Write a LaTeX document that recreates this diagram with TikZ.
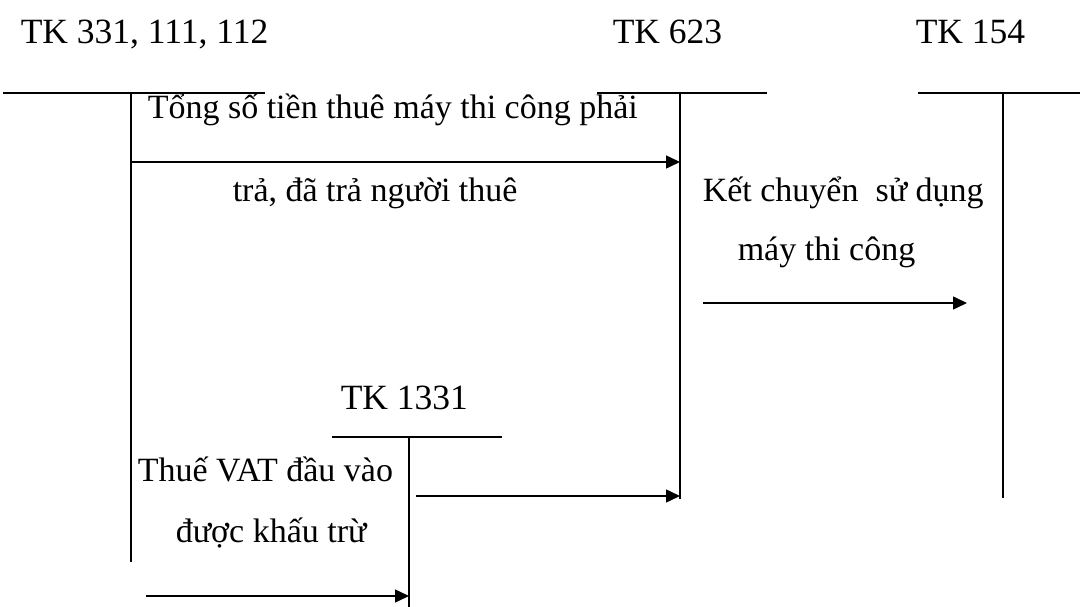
\documentclass[tikz,border=0pt]{standalone}
\usepackage{fontspec}
\setmainfont{Liberation Serif}
\usetikzlibrary{arrows.meta}
\begin{document}
\begin{tikzpicture}[x=1pt,y=-1pt,line width=1.5pt,
  lbl/.style={anchor=base west,inner sep=0pt,font=\fontsize{34}{41}\selectfont},
  head/.style={lbl,font=\fontsize{35.5}{42}\selectfont},
  arr/.style={-{Triangle[length=14pt,width=13pt]}}]
\useasboundingbox (0,0) rectangle (1080,607);
% account headings
\node[head] (h331) at (20,44) {TK 331, 111, 112};
\node[head] (h623) at (612,44) {TK 623};
\node[head] (h154) at (915,44) {TK 154};
\node[head] (h1331) at (340,409) {TK 1331};
% T-account frames
\coordinate (a1L) at (3,93);   \coordinate (a1R) at (265,93);
\coordinate (a1T) at (131,93); \coordinate (a1B) at (131,562);
\coordinate (a2L) at (597,93); \coordinate (a2R) at (767,93);
\coordinate (a2T) at (680,93); \coordinate (a2B) at (680,499);
\coordinate (a3L) at (918,93); \coordinate (a3R) at (1080,93);
\coordinate (a3T) at (1003,93); \coordinate (a3B) at (1003,498);
\coordinate (a4L) at (332,437); \coordinate (a4R) at (502,437);
\coordinate (a4T) at (409,437); \coordinate (a4B) at (409,607);
\draw (a1L) -- (a1R) (a1T) -- (a1B);
\draw (a2L) -- (a2R) (a2T) -- (a2B);
\draw (a3L) -- (a3R) (a3T) -- (a3B);
\draw (a4L) -- (a4R) (a4T) -- (a4B);
% labels
\node[lbl] (t1) at (147,119) {Tổng số tiền thuê máy thi công phải};
\node[lbl] (t2) at (232,201) {trả, đã trả người thuê};
\node[lbl] (t3) at (702,201) {Kết chuyển\ \ sử dụng};
\node[lbl] (t4) at (737,261) {máy thi công};
\node[lbl] (t5) at (137,481) {Thuế VAT đầu vào};
\node[lbl] (t6) at (175,542) {được khấu trừ};
% arrows
\coordinate (s1) at (131,162); \coordinate (e1) at (680,162);
\coordinate (s2) at (703,303); \coordinate (e2) at (967,303);
\coordinate (s3) at (416,496); \coordinate (e3) at (680,496);
\coordinate (s4) at (146,596); \coordinate (e4) at (409,596);
\draw[arr] (s1) -- (e1);
\draw[arr] (s2) -- (e2);
\draw[arr] (s3) -- (e3);
\draw[arr] (s4) -- (e4);
\end{tikzpicture}
\end{document}
